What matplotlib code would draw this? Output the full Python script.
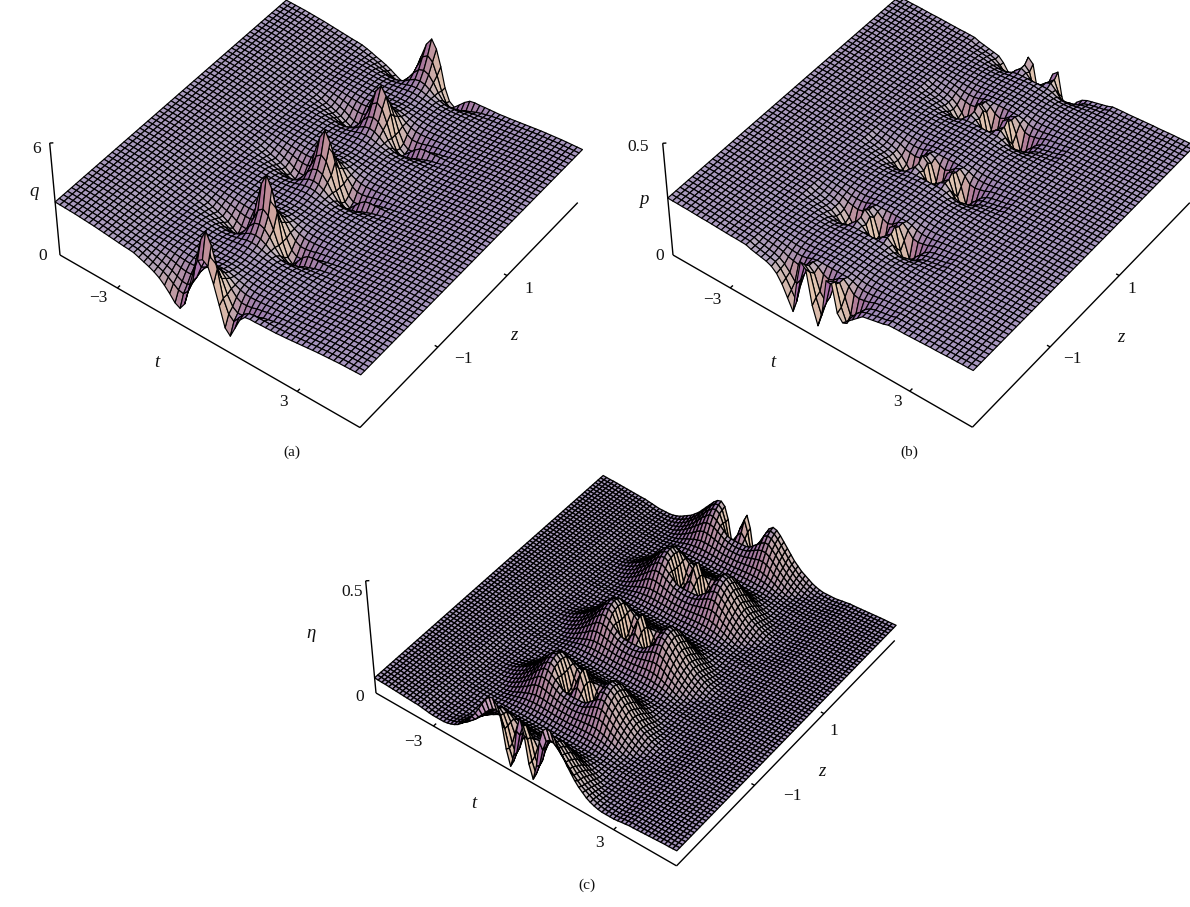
import numpy as np
import matplotlib
matplotlib.use("Agg")
import matplotlib.pyplot as plt
from mpl_toolkits.mplot3d import proj3d

W, H = 1190, 907
T_RANGE = (-5.0, 5.0)
Z_RANGE = (-3.14, 3.14)

# ---------- panel (a): q, heights read per phase of the repeating structure ----------
Q_TAIL = [2.55,2.58,2.6,2.63,2.66,2.69,2.72,2.75,2.78,2.8,2.82,2.84,2.86,2.87,2.88,2.89,2.9]
Q_0L = [5.6,5.0,3.9,2.5,1.8,1.5,1.55,1.75,1.95,2.1,2.2,2.3,2.4,2.48]
Q_0R = [5.6,5.0,3.9,2.5,1.8,1.55,1.9,2.25,2.45,2.5,2.5,2.52,2.53,2.54]
Q_0BL = [5.1,4.6,3.7,2.5,1.85,1.6,1.65,1.8,2.0,2.12,2.22,2.3,2.4,2.48]
Q_0BR = [5.1,4.6,3.7,2.5,1.85,1.65,1.95,2.25,2.45,2.5,2.5,2.52,2.53,2.54]
Q_0CL = [4.7,4.3,3.5,2.5,1.9,1.7,1.72,1.85,2.0,2.12,2.22,2.3,2.4,2.48]
Q_0CR = [4.7,4.3,3.5,2.5,1.9,1.72,1.98,2.25,2.45,2.5,2.5,2.52,2.53,2.54]
Q_FL = [4.3,4.1,3.3,2.3,1.3,.9,1.05,1.4,1.7,1.95,2.12,2.25,2.35,2.45]
Q_FR = [4.3,4.1,3.3,2.3,1.25,.95,1.55,2.15,2.45,2.5,2.5,2.52,2.53,2.54]
Q_1 = [4.0,3.8,3.2,2.5,2.0,1.8,1.82,1.95,2.1,2.2,2.3,2.38,2.44,2.5]
Q_2 = [3.4,3.3,3.0,2.6,2.3,2.15,2.15,2.2,2.28,2.34,2.4,2.44,2.48,2.52]
Q_3 = [3.0,2.95,2.8,2.6,2.48,2.4,2.38,2.4,2.42,2.45,2.48,2.5,2.52,2.54]
Q_4 = [2.8,2.78,2.7,2.62,2.55,2.5,2.48,2.48,2.5,2.52,2.53,2.54,2.55,2.55]
Q_5 = [2.72,2.7,2.66,2.62,2.58,2.55,2.53,2.53,2.53,2.54,2.54,2.55,2.55,2.55]
Q_6 = [2.66,2.65,2.63,2.6,2.58,2.56,2.55,2.55,2.55,2.55,2.55,2.55,2.55,2.55]
Q_7 = [2.62,2.62,2.6,2.59,2.58,2.57,2.56,2.55,2.55,2.55,2.55,2.55,2.55,2.55]
Q_PHASES = [(Q_0L,Q_0R),Q_1,Q_2,Q_3,Q_4,Q_5,Q_6,Q_7,(Q_FL,Q_FR),(Q_0BL,Q_0BR),(Q_0CL,Q_0CR)]
Q_ORDER = [8,0, 1,2,3,4,5,6,7,7,6,5,4,3,2,1,0, 1,2,3,4,5,6,7,7,6,5,4,3,2,1,9,
           1,2,3,4,5,6,7,7,6,5,4,3,2,1,10, 1,2,3,4,5,6,7,6,5,4,3,2,1,10]

# ---------- panel (b): p ----------
P_TAIL = [.248,.249,.25,.25,.251,.252,.253,.254,.255,.255,.256,.257,.258,.258,.259,.259,.26]
P_0L = [.09,.16,.26,.28,.2,.09,.13,.17,.2,.22,.225,.23,.235,.24]
P_0R = [.09,.16,.26,.28,.18,.12,.16,.19,.21,.22,.225,.23,.235,.24]
P_FL = [.06,.14,.29,.31,.2,.06,.11,.16,.195,.215,.225,.23,.235,.24]
P_FR = [.06,.14,.29,.3,.17,.14,.16,.18,.2,.22,.225,.23,.235,.24]
P_1 = [.14,.17,.24,.26,.21,.14,.15,.18,.205,.22,.228,.232,.237,.24]
P_2 = [.22,.23,.25,.26,.24,.215,.21,.215,.22,.23,.235,.238,.241,.244]
P_3 = [.25,.25,.25,.25,.245,.235,.23,.23,.232,.236,.24,.243,.245,.246]
P_4 = [.255,.255,.252,.25,.247,.243,.24,.24,.241,.243,.244,.245,.246,.247]
P_5 = [.255,.254,.253,.252,.25,.248,.246,.245,.245,.245,.246,.246,.247,.247]
P_6 = [.254,.254,.253,.252,.251,.25,.249,.248,.248,.248,.247,.247,.247,.247]
P_7 = [.254,.254,.253,.252,.251,.25,.25,.249,.249,.248,.248,.248,.248,.248]
P_PHASES = [(P_0L,P_0R),P_1,P_2,P_3,P_4,P_5,P_6,P_7,(P_FL,P_FR)]
P_ORDER = [8,0, 1,2,3,4,5,6,7,7,6,5,4,3,2,1,0, 1,2,3,4,5,6,7,7,6,5,4,3,2,1,0,
           1,2,3,4,5,6,7,7,6,5,4,3,2,1,0, 1,2,3,4,5,6,7,6,5,4,3,2,1,0]

# ---------- panel (c): eta ----------
E_TAIL = [.06,.061,.062,.063,.064,.065,.066,.067,.068,.068,.069,.07]
E_F = [.27,.2,.08,.02,.09,.21,.27,.29,.285,.265,.235,.205,.175,.15,.125,.105,.09,.075,.065,.058,.053,.05,.05,.05,.05,.052,.055,.057,.06]
E_0 = [.22,.17,.08,.03,.08,.16,.21,.225,.22,.205,.185,.165,.145,.125,.11,.095,.085,.075,.065,.058,.053,.05,.05,.05,.05,.052,.055,.057,.06]
E_1 = [.21,.165,.09,.05,.09,.16,.205,.22,.215,.2,.18,.16,.14,.12,.105,.09,.08,.07,.062,.056,.052,.05,.05,.05,.05,.052,.055,.057,.06]
E_2 = [.165,.145,.115,.1,.12,.165,.2,.21,.205,.19,.17,.15,.13,.115,.1,.085,.075,.065,.058,.054,.05,.05,.05,.05,.05,.052,.055,.057,.06]
E_3 = [.13,.13,.13,.135,.15,.165,.18,.19,.19,.175,.16,.14,.12,.105,.09,.078,.068,.06,.055,.05,.05,.05,.05,.05,.05,.052,.055,.057,.06]
E_4 = [.12,.122,.125,.13,.14,.15,.16,.165,.165,.155,.14,.125,.11,.095,.083,.072,.062,.055,.05,.05,.05,.05,.05,.05,.05,.052,.055,.057,.06]
E_5 = [.11,.11,.112,.115,.12,.125,.13,.135,.135,.13,.12,.105,.095,.083,.072,.063,.056,.05,.05,.05,.05,.05,.05,.05,.052,.054,.056,.058,.06]
E_6 = [.095,.095,.095,.098,.1,.102,.105,.105,.105,.1,.095,.087,.08,.07,.063,.056,.052,.05,.05,.05,.05,.05,.05,.052,.053,.055,.056,.058,.06]
E_7 = [.08,.08,.08,.082,.083,.084,.085,.085,.085,.082,.08,.075,.07,.064,.06,.055,.052,.05,.05,.05,.05,.05,.05,.052,.053,.055,.056,.058,.06]
E_8 = [.07,.07,.07,.072,.072,.072,.072,.072,.072,.07,.07,.067,.065,.062,.058,.055,.052,.05,.05,.05,.05,.05,.051,.052,.053,.055,.056,.058,.06]
E_9 = [.063,.063,.063,.064,.064,.064,.064,.064,.064,.063,.063,.062,.06,.059,.057,.055,.053,.052,.052,.052,.052,.052,.052,.053,.054,.055,.056,.058,.06]
E_10 = [.06,.06,.06,.06,.06,.06,.06,.06,.06,.06,.06,.059,.058,.057,.056,.055,.054,.054,.054,.054,.054,.054,.054,.054,.055,.056,.057,.058,.06]
E_PHASES = [E_0,E_1,E_2,E_3,E_4,E_5,E_6,E_7,E_8,E_9,E_10,E_F]
E_ORDER = [11,0] + [1,2,3,4,5,6,7,8,9,10,9,8,7,6,5,4,3,2,1,0]*3 + [1,2,3,4,5,6,7,8,9,9,8,7,6,5,4,3,2,1,0]


def two_sided(left, right, tail):
    return list(reversed(left + tail)) + (right + tail)[1:]


def stack(phases, order, tail):
    rows = []
    for k in order:
        p = phases[k]
        left, right = p if isinstance(p, tuple) else (p, p)
        rows.append(two_sided(left, right, tail))
    return np.array(rows)


def shade(X, Y, Z, zmax):
    x = (X - T_RANGE[0]) / (T_RANGE[1] - T_RANGE[0])
    y = (Y - Z_RANGE[0]) / (Z_RANGE[1] - Z_RANGE[0])
    z = Z / zmax * 0.42
    d1 = np.stack([x[1:, 1:] - x[:-1, :-1], y[1:, 1:] - y[:-1, :-1], z[1:, 1:] - z[:-1, :-1]], -1)
    d2 = np.stack([x[1:, :-1] - x[:-1, 1:], y[1:, :-1] - y[:-1, 1:], z[1:, :-1] - z[:-1, 1:]], -1)
    n = np.cross(d2, d1)
    n = n / np.linalg.norm(n, axis=-1, keepdims=True)
    n = n * np.sign(n[..., 2:3])
    nx, ny, nz = n[..., 0], n[..., 1], n[..., 2]
    r = 168 + 30 * nx + 15 * ny + 35 * (1 - nz)
    g = 152 + 45 * nx + 25 * ny
    b = 190 + 5 * nx + 20 * ny - 25 * (1 - nz)
    return np.clip(np.stack([r, g, b, 255 * np.ones_like(r)], -1) / 255, 0, 1)


def panel(fig, Z, zmax, A_px, C_px, lw):
    ax = fig.add_axes([0.1, 0.1, 0.6, 0.6 * W / H], projection="3d", computed_zorder=False)
    nz_, nt_ = Z.shape
    t = np.linspace(*T_RANGE, nt_)
    zv = np.linspace(*Z_RANGE, nz_)
    X, Y = np.meshgrid(t, zv)
    ax.plot_surface(X, Y, Z, rstride=1, cstride=1, facecolors=shade(X, Y, Z, zmax),
                    shade=False, edgecolor="black", linewidth=lw, antialiased=True, zorder=2)
    ax.set_xlim(*T_RANGE); ax.set_ylim(*Z_RANGE); ax.set_zlim(0, zmax)
    ax.set_box_aspect((1, 1, 0.42))
    ax.view_init(elev=45, azim=-53)
    ax.set_axis_off()
    ax.patch.set_alpha(0)
    t0, t1 = T_RANGE; z0, z1 = Z_RANGE
    k = dict(color="black", lw=1.0, zorder=5, solid_capstyle="butt")
    ax.plot([t0, t1], [z0, z0], [0, 0], **k)
    ax.plot([t1, t1], [z0, z1], [0, 0], **k)
    ax.plot([t0, t0], [z0, z0], [0, zmax], **k)
    for v in (-3, 3):
        ax.plot([v, v], [z0, z0 + 0.07], [0, 0], **k)
    for v in (-1, 1):
        ax.plot([t1, t1 - 0.1], [v, v], [0, 0], **k)
    ax.plot([t0, t0 + 0.07], [z0, z0 + 0.04], [zmax, zmax], **k)

    def px(p):
        ax.apply_aspect()
        M = ax.get_proj()
        xx, yy, _ = proj3d.proj_transform(p[0], p[1], p[2], M)
        u, v = ax.transData.transform((xx, yy))
        return np.array([u, H - v])
    # place the axes so the floor corners land where they are in the picture
    pos = ax.get_position()
    S = pos.width * W
    a, c = px((t0, z0, 0)), px((t1, z1, 0))
    A_t, C_t = np.array(A_px, float), np.array(C_px, float)
    f = np.linalg.norm(C_t - A_t) / np.linalg.norm(c - a)
    S2 = S * f
    left = pos.x0 * W; top = H - pos.y1 * H
    new_left = A_t[0] - (a[0] - left) * f
    new_top = A_t[1] - (a[1] - top) * f
    ax.set_position([new_left / W, (H - new_top - S2) / H, S2 / W, S2 / H])
    return ax


def label(fig, x, y, s, size=12.5, italic=False):
    fig.text(x / W, 1 - y / H, s, ha="center", va="center", fontsize=size,
             family="Liberation Serif", style="italic" if italic else "normal", color="#111111")


fig = plt.figure(figsize=(W / 100, H / 100), dpi=100, facecolor="white")

panel(fig, stack(Q_PHASES, Q_ORDER, Q_TAIL), 6, (60, 255), (578, 205), 0.85)
panel(fig, stack(P_PHASES, P_ORDER, P_TAIL), 0.5, (673, 255), (1190, 205), 0.85)
panel(fig, stack(E_PHASES, E_ORDER, E_TAIL), 0.5, (376, 693), (895, 643), 0.95)

A_TEXT = [(37,149,"6"),(43,256,"0"),(98,298,"\u22123"),(283,402,"3"),(463,359,"\u22121"),(529,289,"1")]
A_AXIS = [(34,192,"q"),(157,363,"t"),(514,335,"z")]
B_TEXT = [(638,147,"0.5"),(660,256,"0"),(712,300,"\u22123"),(898,402,"3"),(1072,359,"\u22121"),(1132,289,"1")]
B_AXIS = [(644,200,"p"),(773,363,"t"),(1121,338,"z")]
C_TEXT = [(352,592,"0.5"),(360,697,"0"),(413,742,"\u22123"),(600,843,"3"),(792,796,"\u22121"),(834,731,"1")]
C_AXIS = [(311,634,"\u03b7"),(474,804,"t"),(822,772,"z")]
for x, y, s in A_TEXT + B_TEXT + C_TEXT:
    label(fig, x, y, s)
for x, y, s in A_AXIS + B_AXIS + C_AXIS:
    label(fig, x, y, s, size=13.5, italic=True)
for x, y, s in [(292,452,"(a)"),(909,452,"(b)"),(587,885,"(c)")]:
    label(fig, x, y, s, size=11)

fig.savefig("out.png", dpi=100)
